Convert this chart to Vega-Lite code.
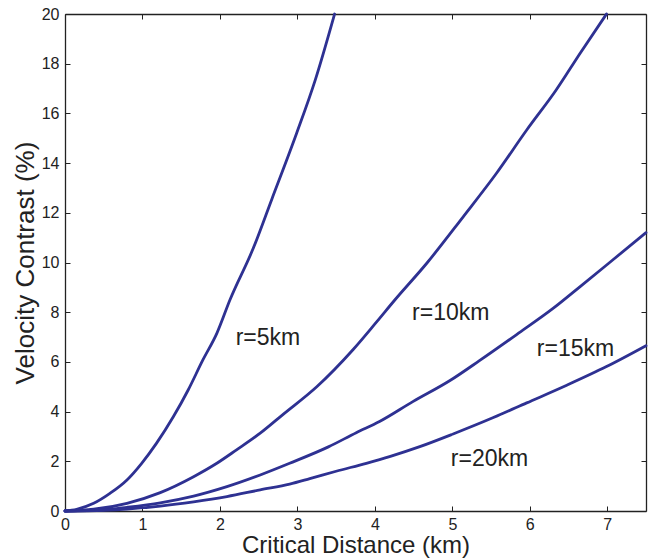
{
  "$schema": "https://vega.github.io/schema/vega-lite/v6.json",
  "width": 581,
  "height": 497,
  "autosize": "none",
  "padding": {"left": 65, "top": 14, "right": 3, "bottom": 47},
  "background": "white",
  "config": {
    "view": {"stroke": null},
    "font": "Liberation Sans",
    "axis": {
      "domainColor": "#222222",
      "domainWidth": 1.3,
      "tickColor": "#222222",
      "tickWidth": 1,
      "tickSize": -5,
      "grid": false,
      "labelFont": "Liberation Sans",
      "labelFontSize": 16,
      "labelColor": "#222222",
      "titleFont": "Liberation Sans",
      "titleFontWeight": "normal",
      "titleColor": "#222222"
    }
  },
  "datasets": {
    "curves": [
      {"r": "5", "d": 0, "v": 0},
      {"r": "5", "d": 0.15, "v": 0.07},
      {"r": "5", "d": 0.37, "v": 0.31},
      {"r": "5", "d": 0.58, "v": 0.71},
      {"r": "5", "d": 0.8, "v": 1.25},
      {"r": "5", "d": 0.99, "v": 1.92},
      {"r": "5", "d": 1.18, "v": 2.72},
      {"r": "5", "d": 1.4, "v": 3.8},
      {"r": "5", "d": 1.59, "v": 4.87},
      {"r": "5", "d": 1.78, "v": 6.08},
      {"r": "5", "d": 1.96, "v": 7.15},
      {"r": "5", "d": 2.13, "v": 8.5},
      {"r": "5", "d": 2.43, "v": 10.57},
      {"r": "5", "d": 2.67, "v": 12.55},
      {"r": "5", "d": 2.99, "v": 15.2},
      {"r": "5", "d": 3.23, "v": 17.34},
      {"r": "5", "d": 3.48, "v": 20},

      {"r": "10", "d": 0, "v": 0},
      {"r": "10", "d": 0.37, "v": 0.07},
      {"r": "10", "d": 0.8, "v": 0.31},
      {"r": "10", "d": 1.23, "v": 0.74},
      {"r": "10", "d": 1.66, "v": 1.38},
      {"r": "10", "d": 1.96, "v": 1.92},
      {"r": "10", "d": 2.21, "v": 2.45},
      {"r": "10", "d": 2.52, "v": 3.13},
      {"r": "10", "d": 2.82, "v": 3.9},
      {"r": "10", "d": 3.25, "v": 5.0},
      {"r": "10", "d": 3.72, "v": 6.5},
      {"r": "10", "d": 4.02, "v": 7.6},
      {"r": "10", "d": 4.26, "v": 8.5},
      {"r": "10", "d": 4.67, "v": 9.97},
      {"r": "10", "d": 5.14, "v": 11.84},
      {"r": "10", "d": 5.57, "v": 13.59},
      {"r": "10", "d": 5.96, "v": 15.33},
      {"r": "10", "d": 6.34, "v": 16.94},
      {"r": "10", "d": 6.65, "v": 18.42},
      {"r": "10", "d": 6.99, "v": 20},

      {"r": "15", "d": 0, "v": 0},
      {"r": "15", "d": 0.5, "v": 0.05},
      {"r": "15", "d": 0.8, "v": 0.15},
      {"r": "15", "d": 1.23, "v": 0.33},
      {"r": "15", "d": 1.66, "v": 0.6},
      {"r": "15", "d": 2.09, "v": 0.98},
      {"r": "15", "d": 2.52, "v": 1.45},
      {"r": "15", "d": 2.9, "v": 1.92},
      {"r": "15", "d": 3.4, "v": 2.58},
      {"r": "15", "d": 3.76, "v": 3.15},
      {"r": "15", "d": 4.06, "v": 3.6},
      {"r": "15", "d": 4.49, "v": 4.4},
      {"r": "15", "d": 4.97, "v": 5.25},
      {"r": "15", "d": 5.35, "v": 6.05},
      {"r": "15", "d": 5.83, "v": 7.1},
      {"r": "15", "d": 6.3, "v": 8.15},
      {"r": "15", "d": 6.65, "v": 9.03},
      {"r": "15", "d": 7.07, "v": 10.1},
      {"r": "15", "d": 7.5, "v": 11.2},

      {"r": "20", "d": 0, "v": 0},
      {"r": "20", "d": 0.5, "v": 0.03},
      {"r": "20", "d": 0.8, "v": 0.08},
      {"r": "20", "d": 1.23, "v": 0.2},
      {"r": "20", "d": 1.66, "v": 0.37},
      {"r": "20", "d": 2.09, "v": 0.58},
      {"r": "20", "d": 2.52, "v": 0.85},
      {"r": "20", "d": 2.9, "v": 1.08},
      {"r": "20", "d": 3.16, "v": 1.3},
      {"r": "20", "d": 3.5, "v": 1.6},
      {"r": "20", "d": 3.89, "v": 1.92},
      {"r": "20", "d": 4.2, "v": 2.2},
      {"r": "20", "d": 4.58, "v": 2.59},
      {"r": "20", "d": 5.01, "v": 3.1},
      {"r": "20", "d": 5.53, "v": 3.76},
      {"r": "20", "d": 5.96, "v": 4.35},
      {"r": "20", "d": 6.47, "v": 5.05},
      {"r": "20", "d": 6.99, "v": 5.81},
      {"r": "20", "d": 7.5, "v": 6.65}
    ],
    "labels": [
      {"text": "r=5km", "d": 2.62, "v": 6.96},
      {"text": "r=10km", "d": 4.98, "v": 7.97},
      {"text": "r=15km", "d": 6.59, "v": 6.52},
      {"text": "r=20km", "d": 5.48, "v": 2.09}
    ]
  },
  "layer": [
    {
      "data": {"name": "curves"},
      "mark": {"type": "line", "color": "#2e3192", "strokeWidth": 2.8, "strokeJoin": "round", "strokeCap": "round", "interpolate": "monotone"},
      "encoding": {
        "x": {
          "field": "d", "type": "quantitative",
          "scale": {"domain": [0, 7.5], "nice": false, "zero": false},
          "axis": {
            "values": [0, 1, 2, 3, 4, 5, 6, 7],
            "title": "Critical Distance (km)",
            "titleFontSize": 24,
            "titleBaseline": "alphabetic",
            "titleY": 41,
            "labelPadding": 10,
            "labelFlush": false
          }
        },
        "y": {
          "field": "v", "type": "quantitative",
          "scale": {"domain": [0, 20], "nice": false},
          "axis": {
            "values": [0, 2, 4, 6, 8, 10, 12, 14, 16, 18, 20],
            "title": "Velocity Contrast (%)",
            "titleFontSize": 26,
            "titleBaseline": "alphabetic",
            "titleX": -32,
            "labelPadding": 11,
            "labelFlush": false
          }
        },
        "detail": {"field": "r"}
      }
    },
    {
      "data": {"name": "labels"},
      "mark": {"type": "text", "fontSize": 23, "color": "#222222", "align": "center", "baseline": "middle"},
      "encoding": {
        "x": {
          "field": "d", "type": "quantitative",
          "scale": {"domain": [0, 7.5], "nice": false, "zero": false},
          "axis": {"orient": "top", "values": [0, 1, 2, 3, 4, 5, 6, 7], "labels": false, "title": null}
        },
        "y": {
          "field": "v", "type": "quantitative",
          "scale": {"domain": [0, 20], "nice": false},
          "axis": {"orient": "right", "values": [0, 2, 4, 6, 8, 10, 12, 14, 16, 18, 20], "labels": false, "title": null}
        },
        "text": {"field": "text"}
      }
    }
  ],
  "resolve": {
    "scale": {"x": "independent", "y": "independent"},
    "axis": {"x": "independent", "y": "independent"}
  }
}
